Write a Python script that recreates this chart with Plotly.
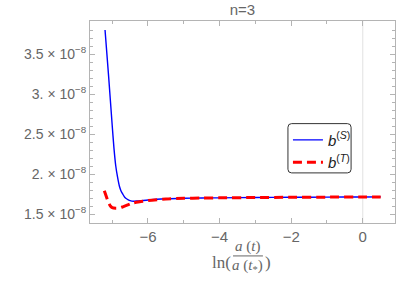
import numpy as np
import plotly.graph_objects as go

# ---- data (values in units of 1e-8) ----
x_s = [-7.2, -7.1, -7.0, -6.95, -6.9, -6.85, -6.8, -6.75, -6.7, -6.65, -6.6, -6.55,
       -6.5, -6.4, -6.3, -6.2, -6.0, -5.5, -5.0, -4.5, -4.0, -3.0, -2.0, -1.0, 0.0, 0.5]
b_s = [3.80, 3.22, 2.61, 2.32, 2.10, 1.96, 1.85, 1.785, 1.745, 1.71, 1.69, 1.677,
       1.668, 1.660, 1.662, 1.666, 1.675, 1.690, 1.697, 1.700, 1.702, 1.706, 1.709, 1.711, 1.713, 1.714]

x_t = [-7.22, -7.15, -7.1, -7.05, -7.0, -6.9, -6.8, -6.7, -6.6, -6.5, -6.4, -6.2,
       -6.0, -5.5, -5.0, -4.5, -4.0, -3.0, -2.0, -1.0, 0.0, 0.5]
b_t = [1.79, 1.70, 1.64, 1.60, 1.58, 1.572, 1.575, 1.59, 1.607, 1.625, 1.64, 1.655,
       1.668, 1.688, 1.696, 1.700, 1.702, 1.706, 1.709, 1.711, 1.713, 1.714]

scale = 1e-8
y_tickvals = [1.5, 2.0, 2.5, 3.0, 3.5]
y_ticktext = ["1.5 × 10<sup>−8</sup>", "2. × 10<sup>−8</sup>", "2.5 × 10<sup>−8</sup>",
              "3. × 10<sup>−8</sup>", "3.5 × 10<sup>−8</sup>"]
x_tickvals = [-6, -4, -2, 0]
x_ticktext = ["−6", "−4", "−2", "0"]

GRAY = "#666666"
AXC = "#b4b4b4"

fig = go.Figure()
fig.add_trace(go.Scatter(x=x_s, y=np.array(b_s) * scale, mode="lines",
                         line=dict(color="#0000ff", width=1.4, shape="spline", smoothing=0.7),
                         name="<i>b</i><sup>(<i>S</i>)</sup>"))
fig.add_trace(go.Scatter(x=x_t, y=np.array(b_t) * scale, mode="lines",
                         line=dict(color="#ff0000", width=3, dash="9px,5px",
                                   shape="spline", smoothing=0.7),
                         name="<i>b</i><sup>(<i>T</i>)</sup>"))

fig.add_shape(type="line", xref="x", yref="paper", x0=0, x1=0, y0=0, y1=1,
              line=dict(color="#e2e2e2", width=1), layer="below")

# rounded legend frame (paper coords)
lx0, lx1, ly0, ly1 = 0.649, 0.856, 0.248, 0.492
rx, ry = 0.012, 0.018
legend_path = (f"M {lx0+rx},{ly1} L {lx1-rx},{ly1} Q {lx1},{ly1} {lx1},{ly1-ry} "
               f"L {lx1},{ly0+ry} Q {lx1},{ly0} {lx1-rx},{ly0} L {lx0+rx},{ly0} "
               f"Q {lx0},{ly0} {lx0},{ly0+ry} L {lx0},{ly1-ry} Q {lx0},{ly1} {lx0+rx},{ly1} Z")
fig.add_shape(type="path", xref="paper", yref="paper", path=legend_path,
              fillcolor="white", line=dict(color="#333333", width=1), layer="above")

fig.update_layout(
    width=396, height=282,
    margin=dict(l=90, r=1, t=21, b=59),
    paper_bgcolor="white", plot_bgcolor="white",
    font=dict(family="Liberation Sans", size=13, color=GRAY),
    title=dict(text="n=3", x=0.5, xref="paper", xanchor="center",
               y=1 - 10 / 282, yref="container", yanchor="middle",
               font=dict(size=15, color=GRAY)),
    showlegend=True,
    legend=dict(x=lx0, y=ly1, xanchor="left", yanchor="top",
                bgcolor="rgba(0,0,0,0)", borderwidth=0,
                font=dict(family="Liberation Sans", size=15, color="#222222"),
                itemwidth=30, tracegroupgap=0),
    xaxis=dict(range=[-7.62, 0.90], tickvals=x_tickvals, ticktext=x_ticktext,
               automargin=False,
               showgrid=False, zeroline=False, showline=True, mirror="ticks",
               linecolor=AXC, linewidth=1, ticks="inside", ticklen=5,
               tickcolor=AXC, tickfont=dict(size=15, color=GRAY),
               minor=dict(tickvals=[-7, -5, -3, -1], ticks="inside", ticklen=3,
                          tickcolor=AXC, showgrid=False)),
    yaxis=dict(range=[1.3875e-8, 3.9125e-8], tickvals=[v * scale for v in y_tickvals],
               automargin=False,
               ticktext=y_ticktext, showgrid=False, zeroline=False, showline=True,
               mirror="ticks", linecolor=AXC, linewidth=1, ticks="inside", ticklen=5,
               tickcolor=AXC, tickfont=dict(size=14, color=GRAY),
               minor=dict(dtick=0.1e-8, ticks="inside", ticklen=3, tickcolor=AXC,
                          showgrid=False)),
)

# x-axis label: ln( a(t) / a(t*) )
serif = dict(family="Liberation Serif", size=15, color=GRAY)
fig.add_annotation(text="ln(", x=0.469, y=-0.195, xref="paper", yref="paper",
                   showarrow=False, xanchor="right", yanchor="middle",
                   font=dict(family="Liberation Serif", size=17, color=GRAY))
fig.add_annotation(text="<i>a</i> (<i>t</i>)", x=0.518, y=-0.118, xref="paper", yref="paper",
                   showarrow=False, xanchor="center", yanchor="middle", font=serif)
fig.add_annotation(text="<i>a</i> (<i>t</i><sub>*</sub>)", x=0.518, y=-0.215, xref="paper",
                   yref="paper", showarrow=False, xanchor="center", yanchor="middle", font=serif)
fig.add_shape(type="line", xref="paper", yref="paper", x0=0.469, x1=0.567,
              y0=-0.163, y1=-0.163, line=dict(color=GRAY, width=1))
fig.add_annotation(text=")", x=0.567, y=-0.195, xref="paper", yref="paper",
                   showarrow=False, xanchor="left", yanchor="middle",
                   font=dict(family="Liberation Serif", size=17, color=GRAY))

fig.write_html("out.html", config={"displayModeBar": False},
               post_script="document.body.style.margin='0';document.body.style.overflow='hidden';")
